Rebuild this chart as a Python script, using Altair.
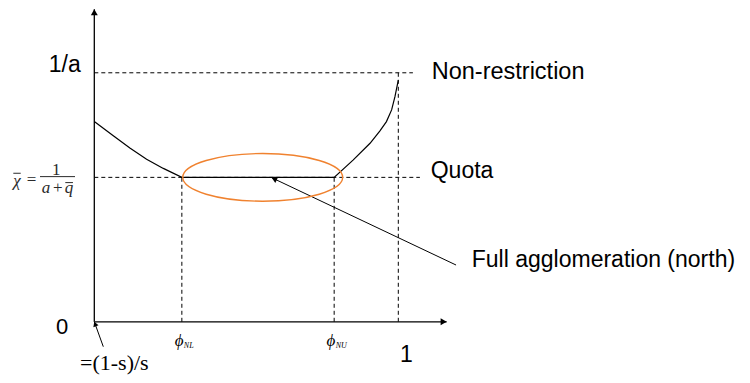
import math
import altair as alt
import pandas as pd

# ---------------- data ----------------
phi_left = [0.0, 0.0625, 0.117, 0.172, 0.227, 0.288]
chi_left = [0.804, 0.747, 0.698, 0.653, 0.616, 0.580]
phi_right = [0.789, 0.852, 0.907, 0.939, 0.961, 0.978, 0.989, 1.0]
chi_right = [0.580, 0.650, 0.717, 0.766, 0.804, 0.851, 0.904, 0.971]
phi_NL = 0.288
phi_NU = 0.789
phi_one = 1.0
chi_quota = 0.580
inv_a = 1.0

# ---------------- layout ----------------
W, H = 734, 367
X_DOM = [-0.2839, 2.1306]
Y_DOM = [-0.2137, 1.2602]
SX = W / (X_DOM[1] - X_DOM[0])  # px per unit
SY = H / (Y_DOM[1] - Y_DOM[0])
SANS = "Liberation Sans"
SERIF = "Liberation Serif"
ORANGE = "#F0822F"
FORMULA = "#2a2a2a"

xs = alt.Scale(domain=X_DOM, nice=False, zero=False)
ys = alt.Scale(domain=Y_DOM, nice=False, zero=False)


def X(f):
    return alt.X(f, type="quantitative", scale=xs, axis=None)


def Y(f):
    return alt.Y(f, type="quantitative", scale=ys, axis=None)


# curve (left branch, flat quota segment, right branch)
curve = pd.DataFrame({
    "phi": phi_left + phi_right,
    "chi": chi_left + chi_right,
    "i": list(range(len(phi_left) + len(phi_right))),
})
curve_layer = alt.Chart(curve).mark_line(color="black", strokeWidth=1.2).encode(
    x=X("phi"), y=Y("chi"), order="i:Q")

# dashed guides
x_top_end = 1.048
x_quota_end = 1.071
dashed = pd.DataFrame([
    {"x": 0.0, "y": inv_a, "x2": x_top_end, "y2": inv_a},
    {"x": 0.0, "y": chi_quota, "x2": x_quota_end, "y2": chi_quota},
    {"x": phi_NL, "y": 0.0, "x2": phi_NL, "y2": chi_quota},
    {"x": phi_NU, "y": 0.0, "x2": phi_NU, "y2": chi_quota},
    {"x": phi_one, "y": 0.0, "x2": phi_one, "y2": inv_a},
])
dashed_layer = alt.Chart(dashed).mark_rule(color="black", strokeWidth=1, strokeDash=[4, 3]).encode(
    x=X("x"), y=Y("y"), x2="x2:Q", y2="y2:Q")

# solid lines: axes and arrows
y_axis_top = 1.255
x_axis_end = 1.159
big_start = (1.190, 0.228)
big_tip = (0.5836, 0.5787)
small_start = (0.0296, -0.100)
small_tip = (0.0, 0.0)
solid = pd.DataFrame([
    {"x": 0.0, "y": 0.0, "x2": 0.0, "y2": y_axis_top, "w": 1.3},
    {"x": 0.0, "y": 0.0, "x2": x_axis_end, "y2": 0.0, "w": 1.3},
    {"x": big_start[0], "y": big_start[1], "x2": big_tip[0], "y2": big_tip[1], "w": 1.0},
    {"x": small_start[0], "y": small_start[1], "x2": small_tip[0], "y2": small_tip[1], "w": 1.0},
])
solid_layer = alt.Chart(solid).mark_rule(color="black").encode(
    x=X("x"), y=Y("y"), x2="x2:Q", y2="y2:Q",
    strokeWidth=alt.StrokeWidth("w:Q", scale=None))


# arrowheads: centred so that the triangle tip lands on the line end
def head(start, tip, size):
    dxp = (tip[0] - start[0]) * SX
    dyp = -(tip[1] - start[1]) * SY
    n = math.hypot(dxp, dyp)
    ux, uy = dxp / n, dyp / n
    h = math.sqrt(3) / 2 * math.sqrt(size) / 2
    cx = tip[0] - h * ux / SX
    cy = tip[1] + h * uy / SY
    ang = math.degrees(math.atan2(ux, -uy)) % 360
    return {"x": cx, "y": cy, "angle": ang, "size": size}


heads = pd.DataFrame([
    head((0.0, 0.0), (0.0, y_axis_top), 48),
    head((0.0, 0.0), (x_axis_end, 0.0), 48),
    head(big_start, big_tip, 40),
    head(small_start, small_tip, 30),
])
head_layer = alt.Chart(heads).mark_point(shape="triangle-up", filled=True, color="black", opacity=1).encode(
    x=X("x"), y=Y("y"),
    angle=alt.Angle("angle:Q", scale=None),
    size=alt.Size("size:Q", scale=None))

# orange ellipse around the full-agglomeration segment
ell_cx = 0.554
ell_rx = 0.263
k = 0.5523
ry = 0.298
ELLIPSE = (f"M -1 0 C -1 {-k*ry:.4f} {-k:.4f} {-ry} 0 {-ry} "
           f"C {k:.4f} {-ry} 1 {-k*ry:.4f} 1 0 "
           f"C 1 {k*ry:.4f} {k:.4f} {ry} 0 {ry} "
           f"C {-k:.4f} {ry} -1 {k*ry:.4f} -1 0 Z")
ell_size = (2 * ell_rx * SX) ** 2
ellipse_layer = alt.Chart(pd.DataFrame({"x": [ell_cx], "y": [chi_quota]})).mark_point(
    shape=ELLIPSE, size=ell_size, filled=False, stroke=ORANGE, strokeWidth=1.4, opacity=1
).encode(x=X("x"), y=Y("y"))


def label(text, x, y, dx=0, dy=0, align="left", font=SANS, size=23, style="normal", color="black"):
    return alt.Chart(pd.DataFrame({"x": [x], "y": [y], "t": [text]})).mark_text(
        align=align, baseline="alphabetic", dx=dx, dy=dy, font=font, fontSize=size,
        fontStyle=style, color=color
    ).encode(x=X("x"), y=Y("y"), text="t:N")


labels = [
    label("1/a", 0.0, inv_a, dx=-13.5, dy=-1, align="right"),
    label("Non-restriction", phi_one, inv_a, dx=33.4, dy=6.5, size=23.5),
    label("Quota", phi_one, chi_quota, dx=32.4, dy=0.8),
    label("Full agglomeration (north)", big_start[0], big_start[1], dx=15.7, dy=1.7),
    label("0", 0.0, 0.0, dx=-26, dy=12.5, align="right", size=22),
    label("1", phi_one, 0.0, dx=1.7, dy=40.5, size=23),
    label("\u03d5", phi_NL, 0.0, dx=-7, dy=24, font=SERIF, size=17, style="italic"),
    label("NL", phi_NL, 0.0, dx=2.0, dy=26.5, font=SERIF, size=8, style="italic"),
    label("\u03d5", phi_NU, 0.0, dx=-7.6, dy=24, font=SERIF, size=17, style="italic"),
    label("NU", phi_NU, 0.0, dx=1.5, dy=26.5, font=SERIF, size=8, style="italic"),
    label("=(1-s)/s", 0.0, 0.0, dx=-14.3, dy=47.8, font=SERIF, size=22),
    # formula  chi-bar = 1 / (a + q-bar)
    label("χ", 0.0, chi_quota, dx=-81, dy=8.5, font=SERIF, size=17, style="italic", color=FORMULA),
    label("=", 0.0, chi_quota, dx=-67.6, dy=8, font=SERIF, size=17, color=FORMULA),
    label("1", 0.0, chi_quota, dx=-38, dy=-2.4, align="center", font=SERIF, size=17, color=FORMULA),
    label("a", 0.0, chi_quota, dx=-52.6, dy=15.6, font=SERIF, size=17, style="italic", color=FORMULA),
    label("+", 0.0, chi_quota, dx=-41.3, dy=15.6, font=SERIF, size=17, color=FORMULA),
    label("q", 0.0, chi_quota, dx=-29.6, dy=15.6, font=SERIF, size=17, style="italic", color=FORMULA),
]

# fraction bar and over-bars of the formula (in chart units)
formula_rules = pd.DataFrame({
    "x": [-0.1786, -0.2664, -0.0954],
    "x2": [-0.0635, -0.2421, -0.0702],
    "y": [chi_quota + 0.003, chi_quota + 0.0165, chi_quota - 0.021],
})
frac_layer = alt.Chart(formula_rules).mark_rule(color=FORMULA, strokeWidth=1).encode(
    x=X("x"), x2="x2:Q", y=Y("y"))

chart = alt.layer(
    dashed_layer, solid_layer, curve_layer, ellipse_layer, head_layer, frac_layer, *labels
).properties(
    width=W, height=H, autosize=alt.AutoSizeParams(type="none"), padding=0, background="white"
).configure_view(stroke=None)

chart.save("out.html", embed_options={"renderer": "svg", "actions": False})
